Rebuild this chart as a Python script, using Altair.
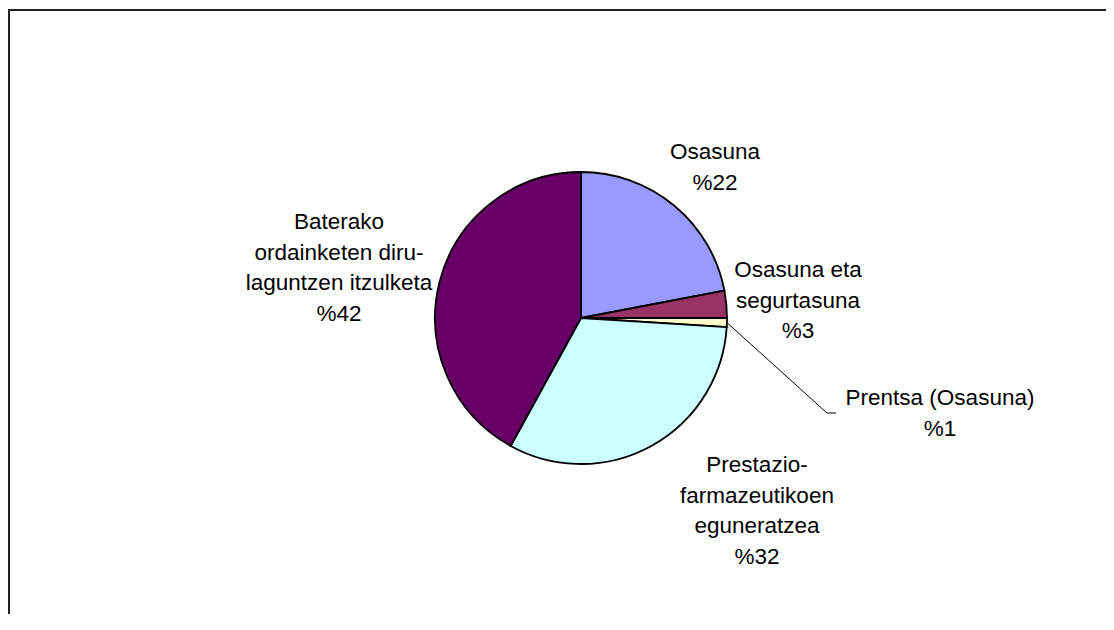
import math
import altair as alt
import pandas as pd

# ---- data ----
categories = [
    "Osasuna",
    "Osasuna eta segurtasuna",
    "Prentsa (Osasuna)",
    "Prestazio-farmazeutikoen eguneratzea",
    "Baterako ordainketen diru-laguntzen itzulketa",
]
label_text = [
    "Osasuna",
    "Osasuna eta\nsegurtasuna",
    "Prentsa (Osasuna)",
    "Prestazio-\nfarmazeutikoen\neguneratzea",
    "Baterako\nordainketen diru-\nlaguntzen itzulketa",
]
percent = [22, 3, 1, 32, 42]
colors = ["#9999FF", "#993366", "#FFFFCC", "#CCFFFF", "#660066"]

# ---- layout (first-line centres of each label, page pixels) ----
W, H = 1098, 606
M = 8
CX, CY, R = 581 - M, 318 - M, 146
label_x = [715 - M, 798 - M, 940 - M, 757 - M, 339 - M]
label_y = [152 - M, 270 - M, 398 - M, 465 - M, 222 - M]
leader_elbow = [(827 - M, 413 - M), (836 - M, 413 - M)]

df = pd.DataFrame({
    "idx": list(range(len(categories))),
    "cat": categories,
    "pct": percent,
    "label": [f"{t}\n%{v}" for t, v in zip(label_text, percent)],
    "lx": label_x,
    "ly": label_y,
})

# leader line for the small slice, starting at the slice's mid-angle on the rim
small = 2
start = sum(percent[:small])
mid = (start + percent[small] / 2) / sum(percent) * 2 * math.pi
p0 = (CX + R * math.sin(mid), CY - R * math.cos(mid))
leader = pd.DataFrame({
    "i": [0, 1, 2],
    "x": [p0[0], leader_elbow[0][0], leader_elbow[1][0]],
    "y": [p0[1], leader_elbow[0][1], leader_elbow[1][1]],
})

xs = alt.Scale(domain=[0, W], range=[0, W], nice=False, zero=False)
ys = alt.Scale(domain=[0, H], range=[0, H], nice=False, zero=False)

pie = alt.Chart(df).mark_arc(outerRadius=R, stroke="black", strokeWidth=1.8).encode(
    theta=alt.Theta("pct:Q", stack=True),
    color=alt.Color("cat:N", scale=alt.Scale(domain=categories, range=colors), legend=None),
    order=alt.Order("idx:Q"),
    x=alt.value(CX),
    y=alt.value(CY),
)

labels = alt.Chart(df).mark_text(
    lineBreak="\n", align="center", baseline="middle",
    fontSize=22.5, lineHeight=30.7, font="Liberation Sans", color="black",
).encode(
    x=alt.X("lx:Q", scale=xs, axis=None),
    y=alt.Y("ly:Q", scale=ys, axis=None),
    text="label:N",
)

leader_line = alt.Chart(leader).mark_line(color="black", strokeWidth=1).encode(
    x=alt.X("x:Q", scale=xs, axis=None),
    y=alt.Y("y:Q", scale=ys, axis=None),
    order="i:Q",
)

frame_top = alt.Chart(df).mark_rule(color="#222222", strokeWidth=2).encode(
    x=alt.value(1), x2=alt.value(W), y=alt.value(2)
)
frame_left = alt.Chart(df).mark_rule(color="#222222", strokeWidth=2).encode(
    x=alt.value(1), y=alt.value(1), y2=alt.value(H)
)

chart = alt.layer(pie, leader_line, labels, frame_top, frame_left).properties(
    width=W, height=H, padding=0, autosize="none", background="white"
).configure_view(stroke=None)

chart.save("out.html", embed_options={"renderer": "svg", "actions": False})
